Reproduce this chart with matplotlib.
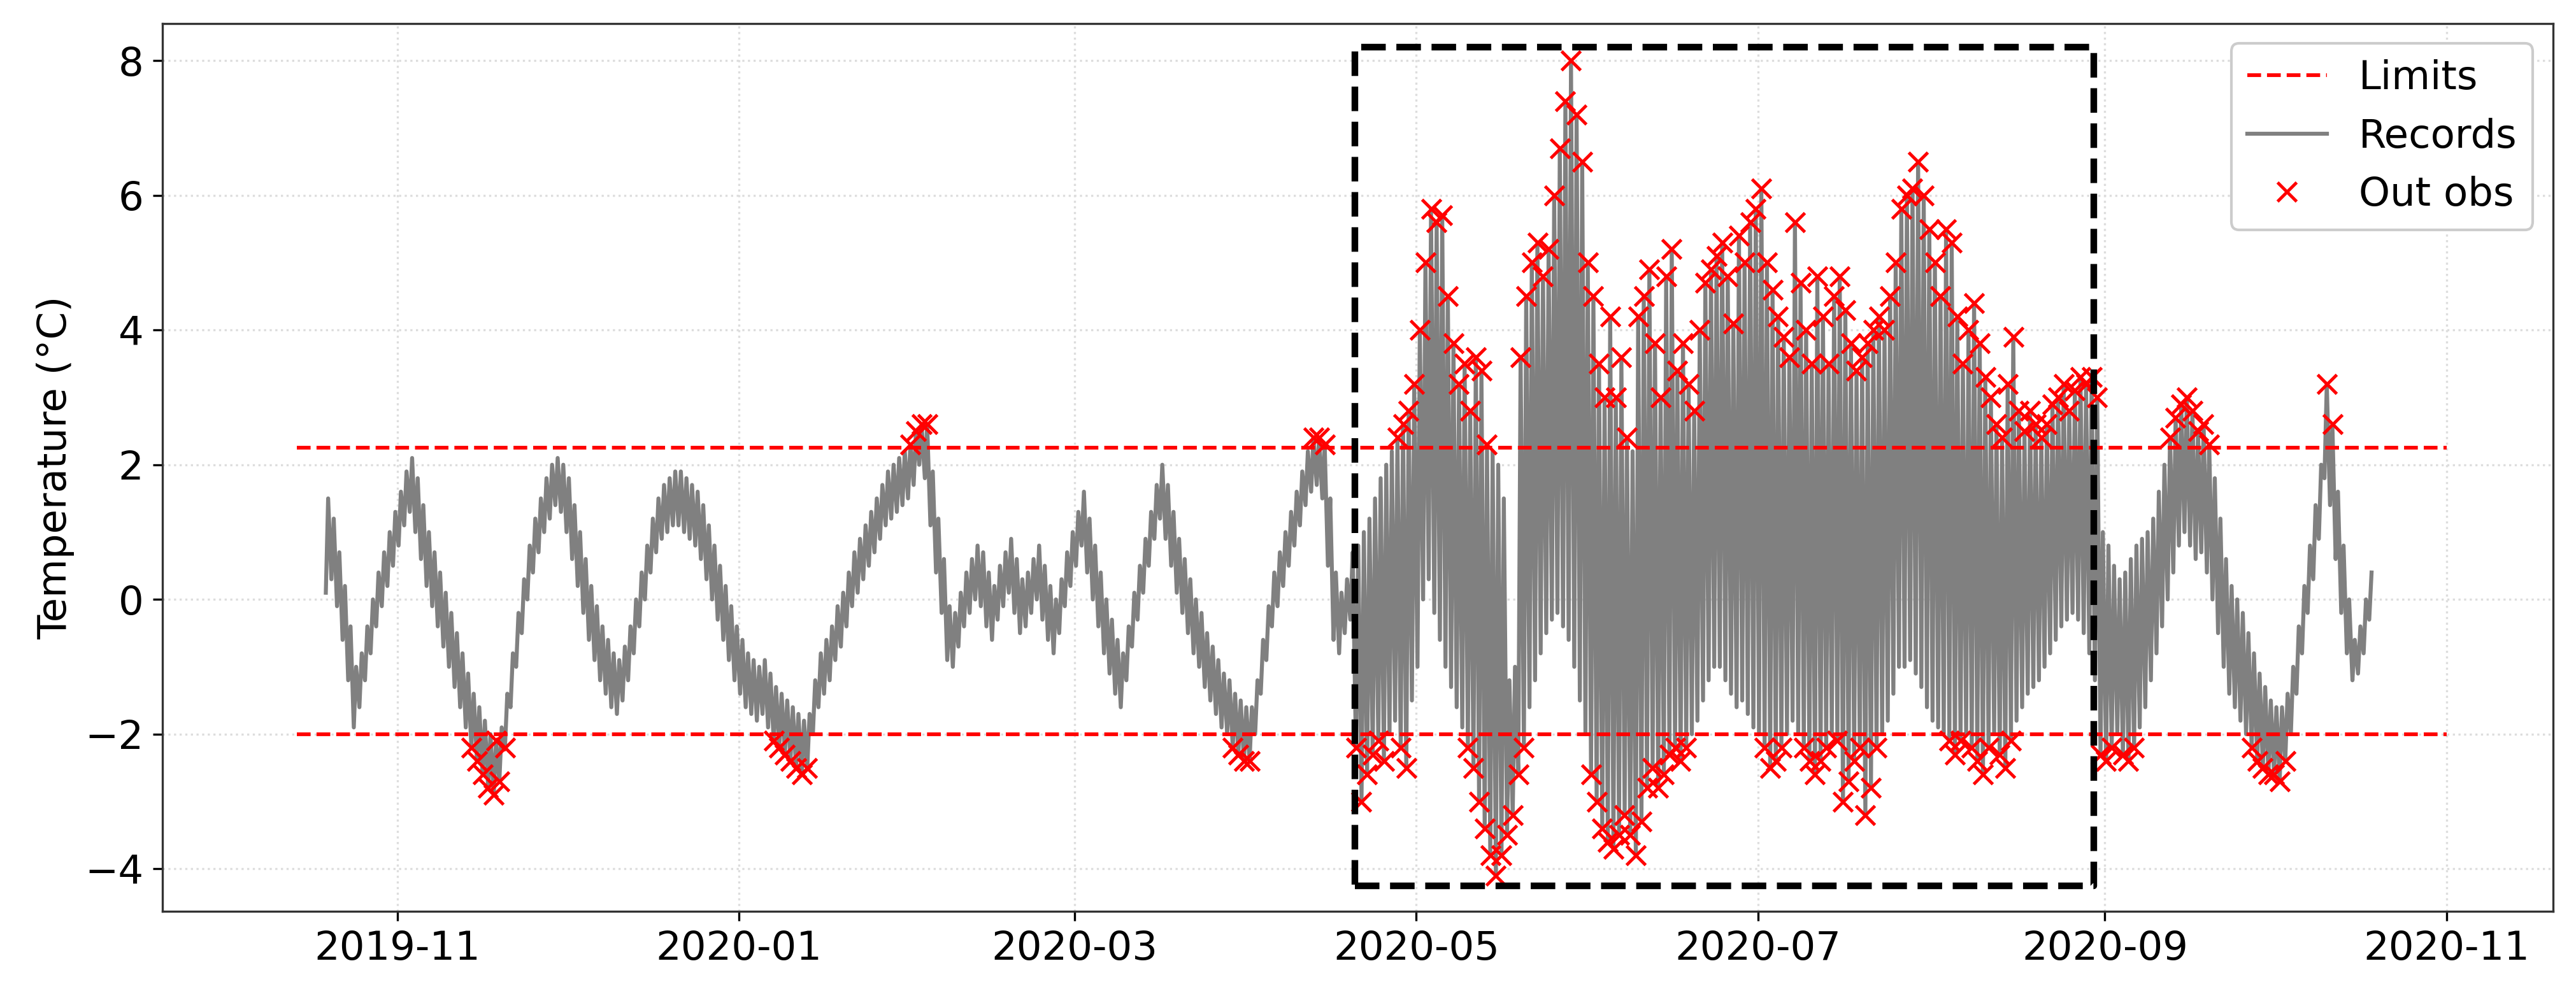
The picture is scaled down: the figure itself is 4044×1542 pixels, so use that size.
import numpy as np
import pandas as pd
import matplotlib
matplotlib.use("Agg")
import matplotlib.pyplot as plt
import matplotlib.dates as mdates

start_date = "2019-10-19"
upper_limit = 2.25
lower_limit = -2.0
limit_span = ("2019-10-14", "2020-11-01")
box_span = ("2020-04-20", "2020-08-30")
box_y = (-4.25, 8.2)

daily_high = [
 1.5,1.2,0.7,0.2,-0.4,-1.0,-0.8,-0.4,0.0,0.4,0.7,1.0,1.3,
 1.6,1.9,2.1,1.8,1.4,1.0,0.7,0.4,0.1,-0.2,-0.5,-0.8,-1.1,-1.4,-1.6,-1.8,-2.0,-2.1,-1.9,-1.4,-0.8,-0.2,0.3,0.8,1.2,1.5,1.8,2.0,2.1,2.0,
 1.8,1.4,1.0,0.6,0.2,-0.1,-0.4,-0.6,-0.8,-0.9,-0.7,-0.4,0.0,0.4,0.8,1.2,1.5,1.7,1.8,1.9,1.9,1.8,1.7,1.6,1.4,1.1,0.8,0.5,0.2,-0.1,-0.4,
 -0.6,-0.8,-0.9,-1.0,-0.9,-1.1,-1.3,-1.4,-1.5,-1.6,-1.7,-1.8,-1.7,-1.2,-0.8,-0.6,-0.4,-0.1,0.1,0.4,0.7,0.9,1.1,1.3,1.5,1.7,1.9,2.0,2.1,2.2,2.3,
 2.5,2.6,2.6,1.9,1.2,0.6,-0.1,-0.2,0.1,0.4,0.6,0.8,0.7,0.4,0.2,0.5,0.7,0.9,0.6,0.3,0.4,0.6,0.8,0.5,0.2,0.0,0.3,0.7,1.0,
 1.3,1.6,1.2,0.8,0.4,0.0,-0.3,-0.6,-0.8,-0.4,0.1,0.5,0.9,1.3,1.7,2.0,1.7,1.3,0.9,0.6,0.3,0.0,-0.2,-0.5,-0.7,-0.9,-1.1,-1.2,-1.4,-1.5,-1.6,
 -1.6,-1.2,-0.6,-0.1,0.4,0.7,1.0,1.3,1.6,1.9,2.2,2.4,2.4,2.3,1.5,0.4,0.1,0.3,0.7,
 0.8,1.0,1.2,1.5,1.8,2.0,2.2,2.4,2.6,2.8,3.2,
 4.0,5.0,5.8,5.6,5.7,4.5,3.8,3.2,3.5,2.8,3.6,3.4,2.3,2.2,2.0,1.5,-1.2,-1.0,3.6,4.5,5.0,5.3,4.8,5.2,6.0,6.7,7.4,8.0,7.2,6.5,5.0,
 4.5,3.5,3.0,4.2,3.0,3.6,2.4,2.2,4.2,4.5,4.9,3.8,3.0,4.8,5.2,3.4,3.8,3.2,2.8,4.0,4.7,4.9,5.1,5.3,4.8,4.1,5.4,5.0,5.6,5.8,
 6.1,5.0,4.6,4.2,3.9,3.6,5.6,4.7,4.0,3.5,4.8,4.2,3.5,4.5,4.8,4.3,3.8,3.4,3.6,3.8,4.0,4.2,4.0,4.5,5.0,5.8,6.0,6.1,6.5,6.0,5.5,
 5.0,4.5,5.5,5.3,4.2,3.5,4.0,4.4,3.8,3.3,3.0,2.6,2.4,3.2,3.9,2.8,2.5,2.8,2.6,2.4,2.6,2.9,3.0,3.2,2.8,3.1,3.3,3.2,3.3,3.0,
 1.0,
 0.8,0.5,0.3,0.4,0.6,0.8,0.9,1.0,1.2,1.6,2.0,2.4,2.7,2.9,3.0,2.8,2.5,2.6,2.3,1.8,1.2,0.6,0.2,0.0,-0.2,-0.5,-0.8,-1.1,-1.3,-1.5,
 -1.6,-1.6,-1.4,-1.0,-0.4,0.2,0.8,1.4,2.0,3.2,2.6,1.6,0.8,0.0,-0.6,-0.4,0.0,0.4,
]

daily_low = [
 0.1,0.3,-0.1,-0.6,-1.2,-1.9,-1.6,-1.2,-0.8,-0.4,-0.1,0.2,0.5,
 0.8,1.1,1.3,1.0,0.6,0.2,-0.1,-0.4,-0.7,-1.0,-1.3,-1.6,-1.9,-2.2,-2.4,-2.6,-2.8,-2.9,-2.7,-2.2,-1.6,-1.0,-0.5,0.0,0.4,0.7,1.0,1.2,1.4,1.3,
 1.0,0.6,0.2,-0.2,-0.6,-0.9,-1.2,-1.4,-1.6,-1.7,-1.5,-1.2,-0.8,-0.4,0.0,0.4,0.7,0.9,1.0,1.1,1.1,1.0,0.9,0.8,0.6,0.3,0.0,-0.3,-0.6,-0.9,-1.2,
 -1.4,-1.6,-1.7,-1.8,-1.7,-1.9,-2.1,-2.2,-2.3,-2.4,-2.5,-2.6,-2.5,-2.0,-1.6,-1.4,-1.2,-0.9,-0.7,-0.4,-0.1,0.1,0.3,0.5,0.7,0.9,1.1,1.2,1.3,1.4,1.5,
 1.7,2.0,1.8,1.1,0.4,-0.2,-0.9,-1.0,-0.7,-0.4,-0.2,0.0,-0.1,-0.4,-0.6,-0.3,-0.1,0.1,-0.2,-0.5,-0.4,-0.2,0.0,-0.3,-0.6,-0.8,-0.5,-0.1,0.2,
 0.5,0.8,0.4,0.0,-0.4,-0.8,-1.1,-1.4,-1.6,-1.2,-0.7,-0.3,0.1,0.5,0.9,1.2,0.9,0.5,0.1,-0.2,-0.5,-0.8,-1.0,-1.3,-1.5,-1.7,-1.9,-2.0,-2.2,-2.3,-2.4,
 -2.4,-2.0,-1.4,-0.9,-0.4,-0.1,0.2,0.5,0.8,1.1,1.4,1.6,1.7,1.5,0.5,-0.6,-0.8,-0.5,-0.3,
 -2.2,-3.0,-2.6,-2.3,-2.1,-2.4,-2.0,-1.8,-2.2,-2.5,-1.5,
 -1.0,0.0,0.3,-0.2,-0.6,-1.0,-1.3,-1.6,-1.9,-2.2,-2.5,-3.0,-3.4,-3.8,-4.1,-3.8,-3.5,-3.2,-2.6,-2.2,-1.6,-1.2,-0.8,-0.5,-0.3,-0.2,-0.4,-0.6,-1.0,-1.5,-2.0,
 -2.6,-3.0,-3.4,-3.6,-3.7,-3.5,-3.2,-3.5,-3.8,-3.3,-2.8,-2.5,-2.8,-2.6,-2.3,-2.2,-2.4,-2.2,-2.0,-1.8,-1.5,-1.2,-1.0,-1.0,-1.2,-1.4,-1.6,-1.5,-1.7,-1.9,
 -2.0,-2.2,-2.5,-2.4,-2.2,-2.0,-1.8,-2.0,-2.2,-2.4,-2.6,-2.4,-2.2,-2.0,-2.1,-3.0,-2.7,-2.4,-2.2,-3.2,-2.8,-2.2,-2.0,-1.8,-1.4,-1.0,-1.0,-0.9,-1.1,-1.3,-1.6,
 -1.8,-1.9,-2.0,-2.1,-2.3,-2.1,-2.0,-2.2,-2.4,-2.6,-2.2,-2.0,-2.3,-2.5,-2.1,-1.8,-1.6,-1.4,-1.3,-1.2,-1.0,-0.8,-0.6,-0.4,-0.3,-0.2,-0.3,-0.5,-0.8,-1.2,
 -2.3,
 -2.4,-2.2,-2.0,-2.3,-2.4,-2.2,-1.9,-1.6,-1.2,-0.8,-0.4,0.0,0.4,0.8,1.0,0.8,0.6,0.7,0.4,0.0,-0.5,-1.0,-1.4,-1.6,-1.8,-2.0,-2.2,-2.4,-2.5,-2.6,
 -2.6,-2.7,-2.4,-2.0,-1.4,-0.8,-0.2,0.3,0.9,1.8,1.4,0.6,-0.2,-0.8,-1.2,-1.1,-0.8,-0.3,
]

n = min(len(daily_high), len(daily_low))
days = pd.date_range(start_date, periods=n, freq="D")
t_lo = days + pd.Timedelta(hours=5)
t_hi = days + pd.Timedelta(hours=15)
times = np.empty(2 * n, dtype="datetime64[ns]")
vals = np.empty(2 * n)
times[0::2] = t_lo.values
times[1::2] = t_hi.values
vals[0::2] = daily_low[:n]
vals[1::2] = daily_high[:n]
out = (vals > upper_limit) | (vals < lower_limit)

plt.rcParams['font.family'] = ['DejaVu Sans']
fig = plt.figure(figsize=(13.48, 5.14), dpi=300)
ax = fig.add_axes([0.063, 0.072, 0.928, 0.904])

lx = pd.to_datetime(list(limit_span))
ax.plot(lx, [upper_limit, upper_limit], color='red', ls='--', lw=1.4, label='Limits', zorder=3)
ax.plot(lx, [lower_limit, lower_limit], color='red', ls='--', lw=1.4, zorder=3)
ax.plot(times, vals, color='gray', lw=1.5, label='Records', zorder=2)
ax.plot(times[out], vals[out], 'x', color='red', ms=7, mew=1.2, label='Out obs', zorder=4)

bx = pd.to_datetime(list(box_span))
ax.plot([bx[0], bx[1], bx[1], bx[0], bx[0]], [box_y[0], box_y[0], box_y[1], box_y[1], box_y[0]],
        color='black', ls='--', lw=2.5, zorder=5)

ax.set_xlim(pd.Timestamp("2019-09-20"), pd.Timestamp("2020-11-20"))
ax.set_ylim(-4.63, 8.55)
ax.set_yticks([-4, -2, 0, 2, 4, 6, 8])
ax.xaxis.set_major_locator(mdates.MonthLocator(bymonth=[1, 3, 5, 7, 9, 11]))
ax.xaxis.set_major_formatter(mdates.DateFormatter('%Y-%m'))
ax.tick_params(labelsize=15)
ax.set_ylabel('Temperature (°C)', fontsize=15)
ax.grid(True, color='#dddddd', ls=':', lw=0.8)
ax.set_axisbelow(True)
for s in ax.spines.values():
    s.set_color('#333333')
ax.legend(loc='upper right', fontsize=15, framealpha=1.0)
fig.savefig('out.png', dpi=300)
